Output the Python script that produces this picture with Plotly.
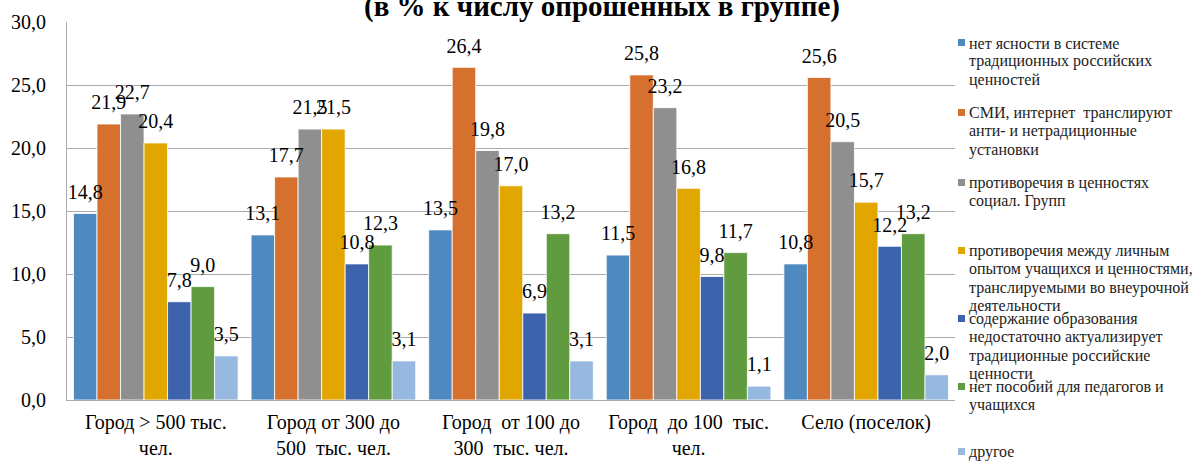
import plotly.graph_objects as go

categories = ["Город > 500 тыс.<br>чел.", "Город от 300 до<br>500  тыс. чел.",
              "Город  от 100 до<br>300  тыс. чел.", "Город  до 100  тыс.<br>чел.",
              "Село (поселок)"]

series_names = [
    "нет ясности в системе<br>традиционных российских<br>ценностей",
    "СМИ, интернет  транслируют<br>анти- и нетрадиционные<br>установки",
    "противоречия в ценностях<br>социал. Групп",
    "противоречия между личным<br>опытом учащихся и ценностями,<br>транслируемыми во внеурочной<br>деятельности",
    "содержание образования<br>недостаточно актуализирует<br>традиционные российские<br>ценности",
    "нет пособий для педагогов и<br>учащихся",
    "другое",
]

values_s1 = [14.8, 13.1, 13.5, 11.5, 10.8]
values_s2 = [21.9, 17.7, 26.4, 25.8, 25.6]
values_s3 = [22.7, 21.5, 19.8, 23.2, 20.5]
values_s4 = [20.4, 21.5, 17.0, 16.8, 15.7]
values_s5 = [7.8, 10.8, 6.9, 9.8, 12.2]
values_s6 = [9.0, 12.3, 13.2, 11.7, 13.2]
values_s7 = [3.5, 3.1, 3.1, 1.1, 2.0]

all_values = [values_s1, values_s2, values_s3, values_s4, values_s5, values_s6, values_s7]
colors = ['#4E89C0', '#D5702E', '#8F8F8F', '#E1A700', '#3D63AD', '#609B3F', '#97B9E0']

yticks = [0, 5, 10, 15, 20, 25, 30]

serif = "Liberation Serif"

W, H = 1195, 463
L, R, T, B = 67, 955, 22, 400

fig = go.Figure()
for i, (name, vals, col) in enumerate(zip(series_names, all_values, colors)):
    fig.add_trace(go.Bar(
        x=categories, y=vals, name=name.replace("<br>", " "),
        marker=dict(color=col, line=dict(color='white', width=0.8)),
        offsetgroup=str(i),
    ))
# value labels: invisible markers push the text a little above each bar
for i, vals in enumerate(all_values):
    fig.add_trace(go.Scatter(
        x=categories, y=vals, mode='markers+text', offsetgroup=str(i),
        marker=dict(size=14, opacity=0), texttemplate='%{y:.1f}',
        textposition='top center', textfont=dict(family=serif, size=20, color='black'),
        cliponaxis=False, hoverinfo='skip', showlegend=False,
    ))

fig.update_layout(
    width=W, height=H,
    barmode='group', bargap=0.073, bargroupgap=0,
    scattermode='group', scattergap=0.073,
    separators=', ',
    plot_bgcolor='white', paper_bgcolor='white',
    margin=dict(l=L, r=W - R, t=T, b=H - B, autoexpand=False),
    font=dict(family=serif, color='black'),
    showlegend=False,
)

fig.update_yaxes(range=[0, 30], tickvals=yticks, tickformat='.1f',
                 showgrid=True, gridcolor='#ABABAB', gridwidth=1,
                 showline=True, linecolor='#ABABAB', linewidth=1,
                 ticks='outside', ticklen=16, tickcolor='white',
                 tickfont=dict(family=serif, size=20, color='black'),
                 zeroline=False)
fig.update_xaxes(range=[-0.5, len(categories) - 0.5],
                 showline=True, linecolor='#ABABAB', linewidth=1,
                 ticks='outside', ticklen=4, tickcolor='white',
                 tickfont=dict(family=serif, size=20, color='black'))


def px_x(p):
    return (p - L) / (R - L)


def px_y(p):
    return (B - p) / (B - T)


fig.add_annotation(text="<b>(в % к числу опрошенных в группе)</b>",
                   xref='paper', yref='paper', x=px_x(602), y=px_y(25),
                   xanchor='center', yanchor='bottom', showarrow=False,
                   font=dict(family=serif, size=29, color='black'))

# legend drawn line by line (Excel-like tight line spacing)
legend_line_centers = [43, 113, 183, 251, 319, 387, 452]
line_step = 18.4
for name, col, yc in zip(series_names, colors, legend_line_centers):
    fig.add_shape(type='rect', xref='paper', yref='paper',
                  x0=px_x(958), x1=px_x(965), y0=px_y(yc - 4), y1=px_y(yc + 3),
                  fillcolor=col, line=dict(width=0))
    for j, line in enumerate(name.split("<br>")):
        fig.add_annotation(text=line, xref='paper', yref='paper',
                           x=px_x(967), y=px_y(yc + j * line_step), xanchor='left',
                           yanchor='middle', align='left', showarrow=False,
                           font=dict(family=serif, size=16, color='#222'))

fig.write_html("out.html", config={'displayModeBar': False},
               post_script="document.body.style.margin='0';")
